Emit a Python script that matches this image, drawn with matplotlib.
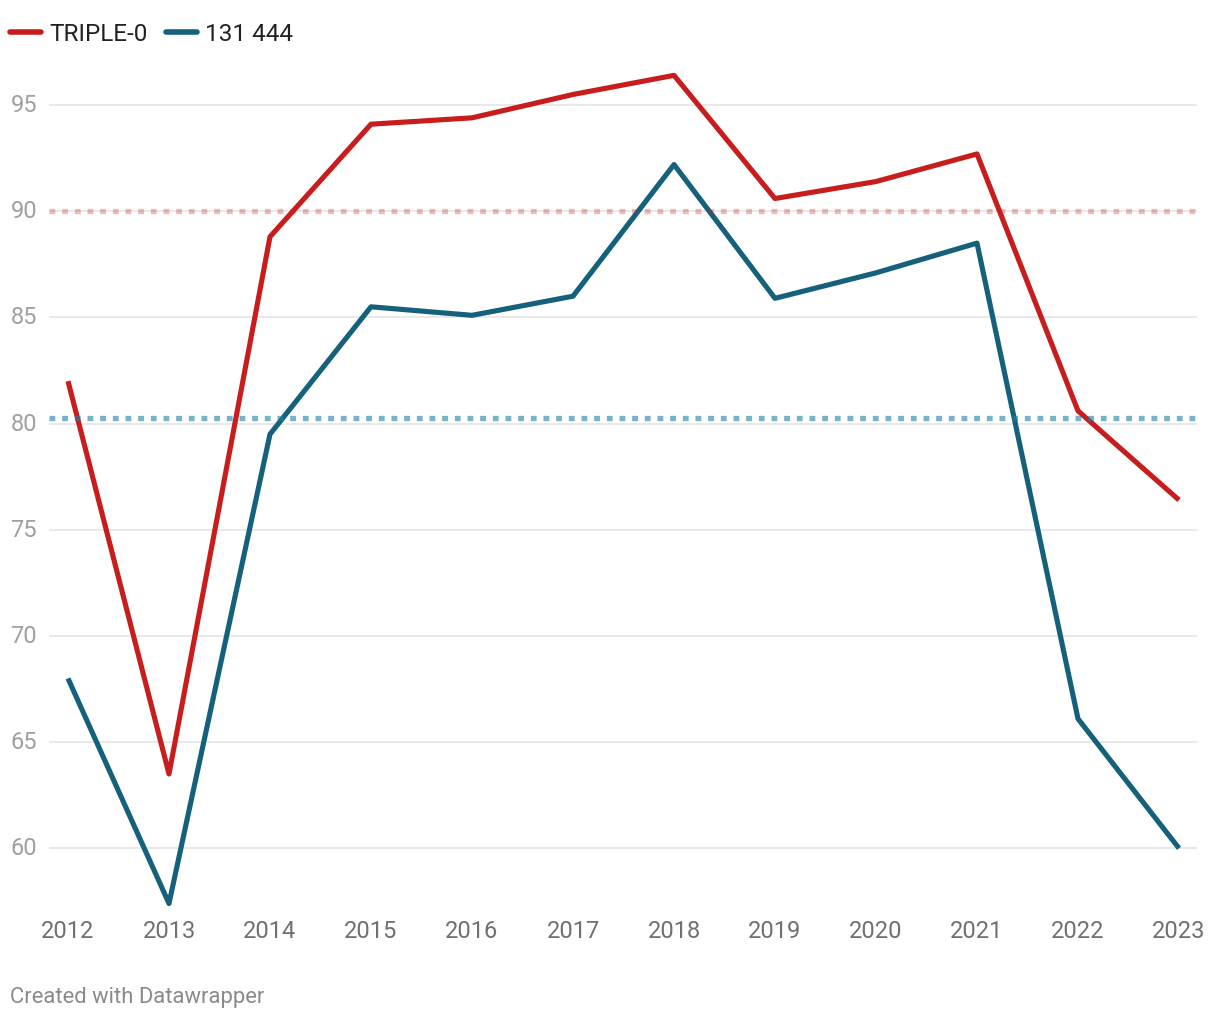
import matplotlib
matplotlib.use("Agg")
import matplotlib.pyplot as plt
from matplotlib.lines import Line2D
from matplotlib.transforms import ScaledTranslation

plt.rcParams['font.family'] = ['Roboto', 'DejaVu Sans']

years = [2012, 2013, 2014, 2015, 2016, 2017, 2018, 2019, 2020, 2021, 2022, 2023]
triple0 = [82.0, 63.5, 88.8, 94.1, 94.4, 95.5, 96.4, 90.6, 91.4, 92.7, 80.6, 76.4]
line131444 = [68.0, 57.4, 79.5, 85.5, 85.1, 86.0, 92.2, 85.9, 87.1, 88.5, 66.1, 60.0]
series_names = ["TRIPLE-0", "131 444"]
target_triple0 = 90.0
target_131444 = 80.25
yticks = [60, 65, 70, 75, 80, 85, 90, 95]

RED = '#c71e1d'
BLUE = '#15607a'

fig = plt.figure(figsize=(12.2, 10.2), dpi=100)
ax = fig.add_axes([49/1220, 1 - 913/1020, (1197-49)/1220, (913-53)/1020])
ax.set_xlim(2012 - 19/101, 2023 + 18/101)
ax.set_ylim(57.0, 97.5)

for y in yticks:
    ax.axhline(y, color='#e3e3e3', lw=1.1, zorder=1)

ax.plot(years, triple0, color=RED, lw=3.7, solid_joinstyle='round', solid_capstyle='butt', zorder=3)
ax.plot(years, line131444, color=BLUE, lw=3.7, solid_joinstyle='round', solid_capstyle='butt', zorder=3)

ax.axhline(target_triple0, color=RED, alpha=0.3, lw=3.8, linestyle=(0, (1.1, 1.3)), dash_capstyle='butt', zorder=4)
ax.axhline(target_131444, color='#1d81a2', alpha=0.6, lw=3.8, linestyle=(0, (1.1, 1.3)), dash_capstyle='butt', zorder=4)

for s in ax.spines.values():
    s.set_visible(False)
ax.set_xticks(years)
ax.set_xticklabels([str(y) for y in years])
ax.set_yticks(yticks)
ax.set_yticklabels([str(y) for y in yticks])
ax.tick_params(axis='x', length=0, pad=5, labelsize=17, labelcolor='#707070')
ax.tick_params(axis='y', length=0, pad=8.6, labelsize=17, labelcolor='#a0a0a0')
off = ScaledTranslation(0, 3/100, fig.dpi_scale_trans)
for lab in ax.get_yticklabels():
    lab.set_transform(lab.get_transform() + off)

handles = [Line2D([0], [0], color=RED, lw=4, solid_capstyle='round'),
           Line2D([0], [0], color=BLUE, lw=4, solid_capstyle='round')]
leg = fig.legend(handles, series_names, loc='upper left', bbox_to_anchor=(0.0, 0.987),
                 ncol=2, frameon=False, fontsize=17.5, handlelength=1.28, handletextpad=0.32,
                 columnspacing=0.75, borderaxespad=0.0, borderpad=0.42)
for t in leg.get_texts():
    t.set_color('#222222')

fig.text(10/1220, 1 - 998/1020, "Created with Datawrapper", fontsize=15.8, color='#8a8a8a',
         ha='left', va='center')

fig.savefig('out.png', dpi=100, facecolor='white')
